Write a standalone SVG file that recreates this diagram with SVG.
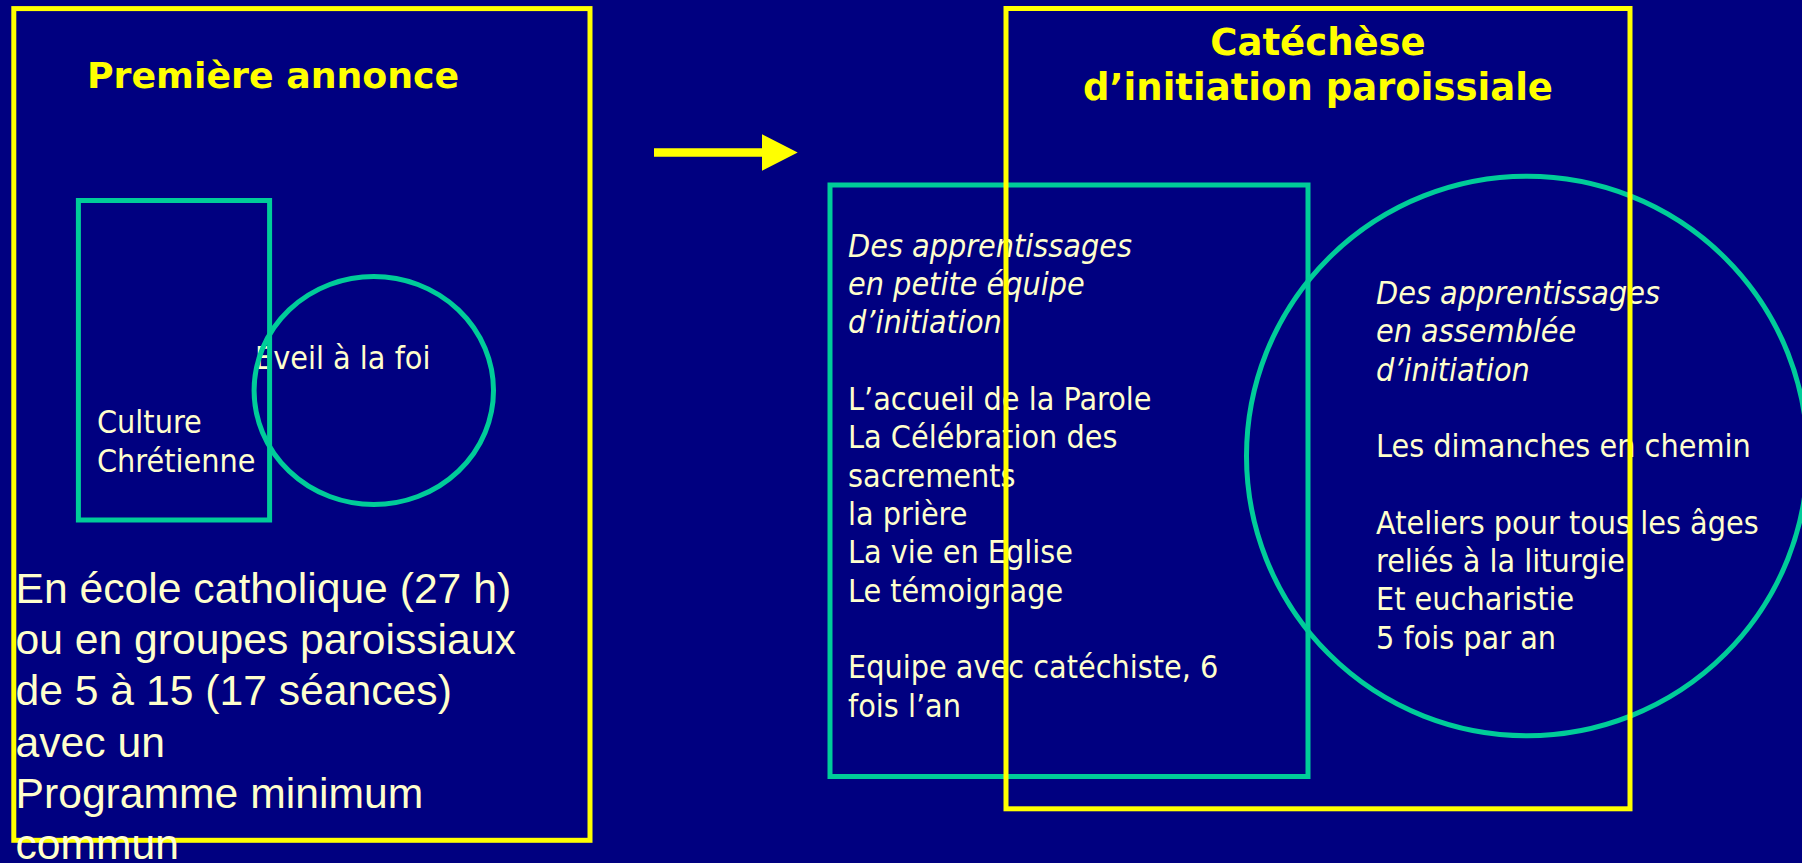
<svg xmlns="http://www.w3.org/2000/svg" width="1802" height="863" viewBox="0 0 1802 863">
<style>
.bg{fill:#000080}
.yel{fill:none;stroke:#FFFF00;stroke-width:5}
.grn{fill:none;stroke:#00CC99;stroke-width:5}
.ttl{font-family:"DejaVu Sans",Verdana,sans-serif;font-weight:bold;font-size:37px;fill:#FFFF00}
.body{font-family:"DejaVu Sans Condensed","DejaVu Sans",sans-serif;font-stretch:condensed;font-size:32px;fill:#FFFFCC}
.it{font-style:italic}
.big{font-family:"Liberation Sans",Arial,sans-serif;font-size:42.67px;fill:#FFFFCC}
.arrow{fill:#FFFF00}
</style>
<rect class="bg" x="0" y="0" width="1802" height="863"/>

<g id="premiere-annonce">
  <rect class="yel" x="13.8" y="8.6" width="576.2" height="831.7"/>
  <text class="ttl" x="87" y="87.5" style="font-size:36.3px">Première annonce</text>
</g>

<g id="culture-chretienne">
  <text class="body" x="97" y="433"><tspan x="97" y="433">Culture</tspan><tspan x="97" y="471.5">Chrétienne</tspan></text>
</g>

<g id="eveil-foi">
  <text class="body" x="255" y="369">Eveil à la foi</text>
</g>

<g id="shapes-left">
  <rect class="grn" x="78.4" y="200.5" width="191.2" height="319.5"/>
  <ellipse class="grn" cx="373.8" cy="390.5" rx="119.7" ry="114"/>
</g>

<g id="ecole-texte">
  <text class="big">
    <tspan x="15.5" y="602.7">En école catholique (27 h)</tspan>
    <tspan x="15.5" y="654">ou en groupes paroissiaux</tspan>
    <tspan x="15.5" y="705.3">de 5 à 15 (17 séances)</tspan>
    <tspan x="15.5" y="756.6">avec un</tspan>
    <tspan x="15.5" y="807.9">Programme minimum</tspan>
    <tspan x="15.5" y="859.2">commun</tspan>
  </text>
</g>

<g id="connectors">
  <path class="arrow" d="M654,148.3 H762 V134.3 L797.7,152.5 L762,170.7 V156.7 H654 Z"/>
</g>

<g id="petite-equipe">
  <rect class="grn" x="830" y="185" width="478" height="591.5"/>
  <text class="body">
    <tspan class="it" x="848" y="256.7">Des apprentissages</tspan>
    <tspan class="it" x="848" y="295">en petite équipe</tspan>
    <tspan class="it" x="848" y="333.3">d’initiation</tspan>
    <tspan x="848" y="410">L’accueil de la Parole</tspan>
    <tspan x="848" y="448.3">La Célébration des</tspan>
    <tspan x="848" y="486.6">sacrements</tspan>
    <tspan x="848" y="525">la prière</tspan>
    <tspan x="848" y="563.3">La vie en Eglise</tspan>
    <tspan x="848" y="601.6">Le témoignage</tspan>
    <tspan x="848" y="678.3">Equipe avec catéchiste, 6</tspan>
    <tspan x="848" y="716.6">fois l’an</tspan>
  </text>
</g>

<g id="assemblee">
  <ellipse class="grn" cx="1527" cy="456" rx="280.5" ry="279.7"/>
  <text class="body">
    <tspan class="it" x="1376" y="304">Des apprentissages</tspan>
    <tspan class="it" x="1376" y="342.3">en assemblée</tspan>
    <tspan class="it" x="1376" y="380.6">d’initiation</tspan>
    <tspan x="1376" y="457.2">Les dimanches en chemin</tspan>
    <tspan x="1376" y="533.8">Ateliers pour tous les âges</tspan>
    <tspan x="1376" y="572.1">reliés à la liturgie</tspan>
    <tspan x="1376" y="610.4">Et eucharistie</tspan>
    <tspan x="1376" y="648.7">5 fois par an</tspan>
  </text>
</g>

<g id="catechese">
  <rect class="yel" x="1006" y="8.5" width="624" height="800.3"/>
  <text class="ttl" text-anchor="middle"><tspan x="1318" y="55">Catéchèse</tspan><tspan x="1318" y="100">d’initiation paroissiale</tspan></text>
</g>
</svg>
